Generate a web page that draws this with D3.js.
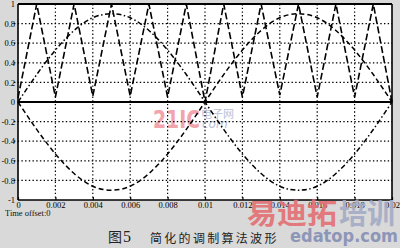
<!DOCTYPE html>
<html><head><meta charset="utf-8">
<script src="https://cdn.jsdelivr.net/npm/d3@7"></script>
<style>html,body{margin:0;padding:0;background:#d9d9d9;}svg{display:block;}</style>
</head><body>
<svg id="c" width="400" height="248"></svg>
<script>
// ---- data ----
const xTicks = [0,0.002,0.004,0.006,0.008,0.01,0.012,0.014,0.016,0.018,0.02];
const xTickLabels = ["0","0.002","0.004","0.006","0.008","0.01","0.012","0.014","0.016","0.018","0.02"];
const yTicks = [1,0.8,0.6,0.4,0.2,0,-0.2,-0.4,-0.6,-0.8,-1];
const yTickLabels = ["1","0.8","0.6","0.4","0.2","0","-0.2","-0.4","-0.6","-0.8","-1"];
// triangular carrier (dashed)
const carrierT = [0,0.001,0.002,0.003,0.004,0.005,0.006,0.007,0.008,0.009,0.01,0.011,0.012,0.013,0.014,0.015,0.016,0.017,0.018,0.019,0.02];
const carrierV = [0.04,1,0.05,1,0.06,1,0.06,1,0.05,1,0,1,0.05,1,0.07,1,0.05,1,0.05,1,0];
// modulating waves
const waveT = [0,0.001,0.002,0.003,0.004,0.005,0.006,0.007,0.008,0.009,0.01,0.011,0.012,0.013,0.014,0.015,0.016,0.017,0.018,0.019,0.02];
const waveA = [0,0.28,0.53,0.73,0.86,0.9,0.86,0.73,0.53,0.28,0,-0.28,-0.53,-0.73,-0.86,-0.9,-0.86,-0.73,-0.53,-0.28,0]; // dash-dot
const waveB = [0,-0.28,-0.53,-0.73,-0.86,-0.9,-0.86,-0.73,-0.53,-0.28,0,0.28,0.53,0.73,0.86,0.9,0.86,0.73,0.53,0.28,0]; // dashed

const svg = d3.select("#c");
const L=18,R=392,T=4,B=200;
const x = d3.scaleLinear().domain([0,0.02]).range([L,R]);
const y = d3.scaleLinear().domain([-1,1]).range([B,T]);

svg.append("rect").attr("x",L).attr("y",T).attr("width",R-L).attr("height",B-T).attr("fill","#fff");

// watermark 21IC (behind lines)
const wm = svg.append("g");
wm.append("text").attr("x",153).attr("y",128).attr("font-family","DejaVu Sans").attr("font-weight","bold")
  .attr("font-size",25).attr("textLength",47).attr("lengthAdjust","spacingAndGlyphs").attr("fill","#f2a4ac").text("21IC");
wm.append("text").attr("x",201).attr("y",118).attr("font-family","Noto Sans CJK SC").attr("font-size",11)
  .attr("fill","#b9c0d6").text("电子网");
wm.append("text").attr("x",202).attr("y",128).attr("font-family","DejaVu Sans").attr("font-style","italic").attr("font-size",12)
  .attr("fill","#b9c0d6").text("com");

// grid
const grid = svg.append("g").attr("stroke","#000").attr("stroke-width",1.2).attr("stroke-dasharray","1.4,2.3");
xTicks.filter(d=>d>0&&d<0.02).forEach(d=>{
  grid.append("line").attr("x1",x(d)).attr("x2",x(d)).attr("y1",T).attr("y2",B);
});
yTicks.filter(d=>d!==0&&Math.abs(d)<1).forEach(d=>{
  grid.append("line").attr("x1",L-4).attr("x2",R).attr("y1",y(d)).attr("y2",y(d));
});

// lines
svg.append("path").attr("d",d3.line().x((d,i)=>x(waveT[i])).y(d=>y(d)).curve(d3.curveNatural)(waveA))
  .attr("fill","none").attr("stroke","#000").attr("stroke-width",1.5).attr("stroke-dasharray","5,2.5,1.5,2.5");
svg.append("path").attr("d",d3.line().x((d,i)=>x(waveT[i])).y(d=>y(d)).curve(d3.curveNatural)(waveB))
  .attr("fill","none").attr("stroke","#000").attr("stroke-width",1.5).attr("stroke-dasharray","5,3");
svg.append("path").attr("d",d3.line().x((d,i)=>x(carrierT[i])).y(d=>y(d))(carrierV))
  .attr("fill","none").attr("stroke","#000").attr("stroke-width",1.6).attr("stroke-dasharray","7,3");

// zero line & frame
svg.append("line").attr("x1",L).attr("x2",R).attr("y1",y(0)).attr("y2",y(0)).attr("stroke","#000").attr("stroke-width",2);
svg.append("line").attr("x1",L).attr("x2",R).attr("y1",T).attr("y2",T).attr("stroke","#000").attr("stroke-width",2.2);
svg.append("line").attr("x1",L).attr("x2",L).attr("y1",T).attr("y2",B).attr("stroke","#000").attr("stroke-width",1.6);
svg.append("line").attr("x1",R).attr("x2",R).attr("y1",T).attr("y2",B).attr("stroke","#000").attr("stroke-width",1.6);
svg.append("line").attr("x1",L).attr("x2",R).attr("y1",B).attr("y2",B).attr("stroke","#000").attr("stroke-width",1.6);

// axes labels
const xa = d3.axisBottom(x).tickValues(xTicks).tickFormat((d,i)=>xTickLabels[i]).tickSizeInner(-3).tickSizeOuter(0).tickPadding(2);
const gx = svg.append("g").attr("transform",`translate(0,${B})`).call(xa);
gx.select(".domain").remove();
gx.selectAll("line").attr("stroke","#000").attr("stroke-width",1.2);
gx.selectAll("text").attr("font-family","Liberation Serif").attr("font-size",8.5).attr("fill","#000");

const ya = d3.axisLeft(y).tickValues(yTicks).tickFormat((d,i)=>yTickLabels[i]).tickSize(0).tickPadding(3);
const gy = svg.append("g").attr("transform",`translate(${L},0)`).call(ya);
gy.select(".domain").remove();
gy.selectAll("text").attr("font-family","Liberation Serif").attr("font-size",8.5).attr("fill","#000");

svg.append("text").attr("x",5).attr("y",216).attr("font-family","Liberation Serif").attr("font-size",8.5)
  .attr("fill","#111").text("Time offset:0");

// caption
svg.append("text").attr("x",108).attr("y",242).attr("font-family","Noto Sans CJK SC").attr("font-size",14)
  .attr("fill","#222").text("图");
svg.append("text").attr("x",123).attr("y",242).attr("font-family","Liberation Serif").attr("font-size",16)
  .attr("fill","#222").text("5");
svg.append("text").attr("x",150).attr("y",243).attr("font-family","Noto Sans CJK SC").attr("font-size",12)
  .attr("letter-spacing",2.3).attr("fill","#222").text("简化的调制算法波形");

// bottom-right watermark
svg.append("text").attr("x",247).attr("y",224).attr("font-family","Noto Sans CJK SC").attr("font-weight","bold")
  .attr("font-size",28).attr("textLength",90).attr("lengthAdjust","spacingAndGlyphs").attr("fill","#e36f73").attr("opacity",0.9).text("易迪拓");
svg.append("text").attr("x",339).attr("y",224).attr("font-family","Noto Sans CJK SC").attr("font-weight","bold")
  .attr("font-size",28).attr("textLength",56).attr("lengthAdjust","spacingAndGlyphs").attr("fill","#a3abc4").attr("opacity",0.9).text("培训");
svg.append("text").attr("x",290).attr("y",242).attr("font-family","DejaVu Sans").attr("font-weight","bold")
  .attr("font-size",18).attr("textLength",108).attr("lengthAdjust","spacingAndGlyphs").attr("fill","#8e96b8").text("edatop.com");
</script>
</body></html>
